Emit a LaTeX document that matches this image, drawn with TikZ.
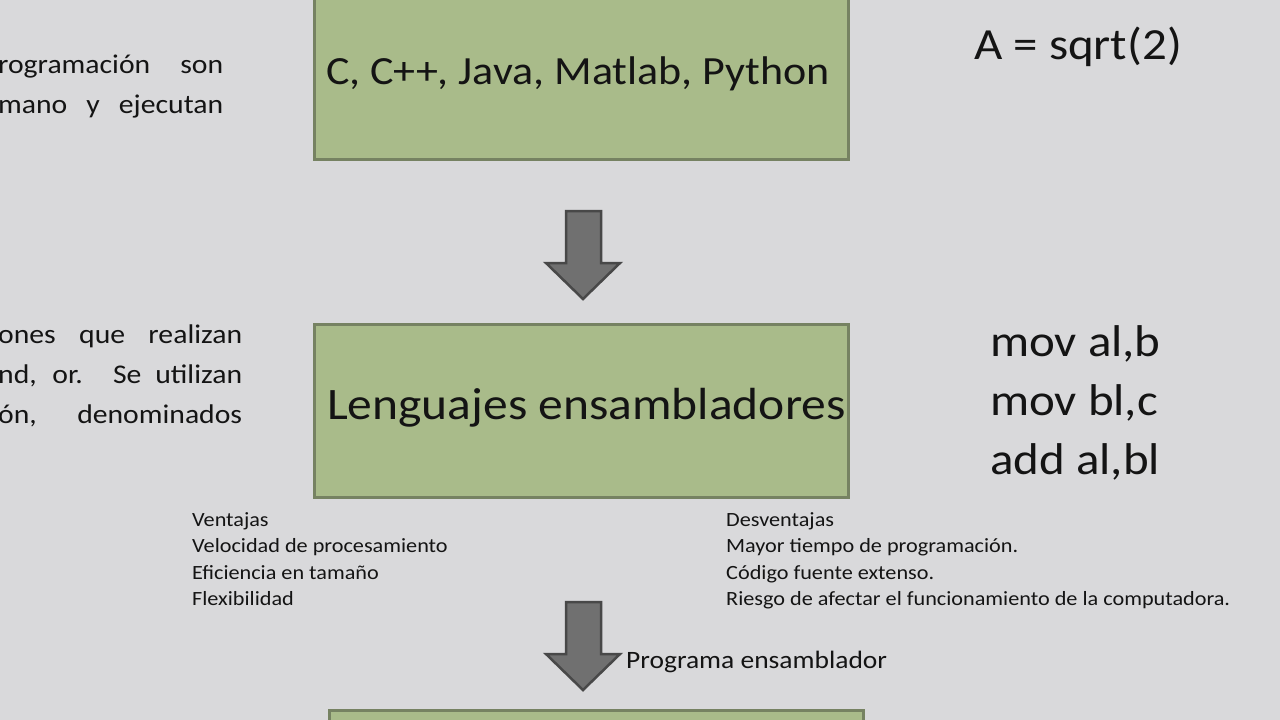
\documentclass[tikz,border=0pt]{standalone}
\usepackage{fontspec}
\setmainfont{Carlito}[FakeStretch=1.1]
\definecolor{bg}{RGB}{217,217,219}
\definecolor{boxfill}{RGB}{169,187,138}
\definecolor{boxline}{RGB}{118,130,98}
\definecolor{arrfill}{RGB}{112,112,112}
\definecolor{arrline}{RGB}{72,72,72}
\definecolor{txt}{RGB}{20,20,20}
\begin{document}
\begin{tikzpicture}[x=1pt,y=-1pt,
  greenbox/.style={draw=boxline,line width=3pt,fill=boxfill},
  blockarrow/.style={draw=arrline,line width=2.5pt,fill=arrfill,line join=miter},
  lbl/.style={inner sep=0pt,text=txt,anchor=base west},
  small/.style={lbl,font=\fontsize{20.2}{24}\selectfont},
  code/.style={lbl,font=\fontsize{44.5}{48}\selectfont},
  side/.style={inner sep=0pt,text=txt,anchor=base west,font=\fontsize{27}{30}\selectfont}]
\fill[bg] (0,0) rectangle (1280,720);
\useasboundingbox (0,0) rectangle (1280,720);
% boxes
\draw[greenbox] (314,-10) rectangle (848,159);
\draw[greenbox] (314,324) rectangle (848,497);
\draw[greenbox] (329,710) rectangle (863,740);
% block arrows
\draw[blockarrow] (566,211) -- (601,211) -- (601,263) -- (620,263) -- (583,299) -- (546,263) -- (566,263) -- cycle;
\draw[blockarrow] (566,602) -- (601,602) -- (601,654) -- (620,654) -- (583,690) -- (546,654) -- (566,654) -- cycle;
% box texts
\node[lbl,font=\fontsize{40}{44}\selectfont] (t1) at (326,84) {C, C++, Java, Matlab, Python};
\node[lbl,font=\fontsize{45}{48}\selectfont] (t2) at (327,419) {Lenguajes ensambladores};
% right code
\node[code] (code0) at (974,59) {A = sqrt(2)};
\node[code] (code1) at (990,356) {mov al,b};
\node[code] (code2) at (990,415) {mov bl,c};
\node[code] (code3) at (990,474) {add al,bl};
% left cut text
\node[side] (l1) at (-2,73) {\makebox[225pt][s]{rogramación son}};
\node[side] (l2) at (-2,113) {\makebox[225pt][s]{mano y ejecutan}};
\node[side] (l3) at (-2,343) {\makebox[244pt][s]{ones que realizan}};
\node[side] (l4) at (-2,383) {\makebox[244pt][s]{nd, or. Se utilizan}};
\node[side] (l5) at (-2,423) {\makebox[244pt][s]{ón, denominados}};
% ventajas / desventajas
\node[small] (v0) at (192,526) {Ventajas};
\node[small] (v1) at (192,552.5) {Velocidad de procesamiento};
\node[small] (v2) at (192,579) {Eficiencia en tamaño};
\node[small] (v3) at (192,605.5) {Flexibilidad};
\node[small] (d0) at (726,526) {Desventajas};
\node[small] (d1) at (726,552.5) {Mayor tiempo de programación.};
\node[small] (d2) at (726,579) {Código fuente extenso.};
\node[small] (d3) at (726,605.5) {Riesgo de afectar el funcionamiento de la computadora.};
\node[lbl,font=\fontsize{25}{28}\selectfont] (prog) at (626,668) {Programa ensamblador};
\end{tikzpicture}
\end{document}
